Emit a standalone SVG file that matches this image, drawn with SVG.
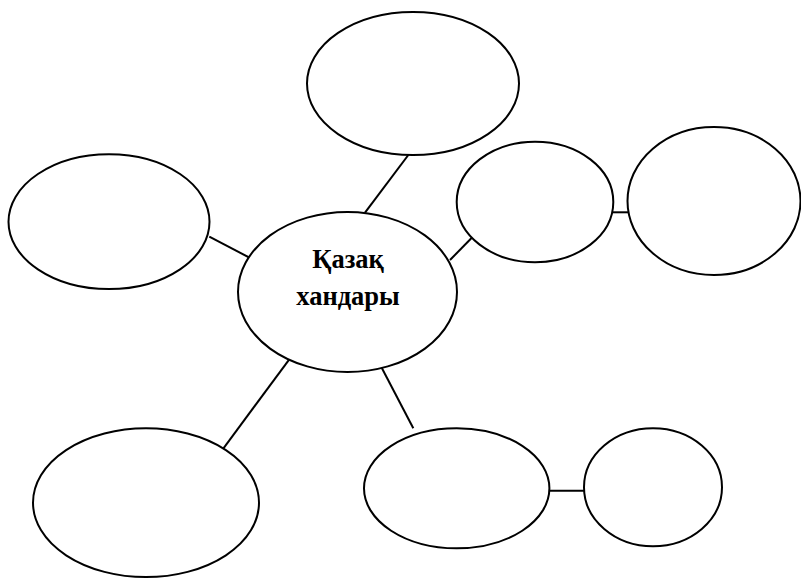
<svg xmlns="http://www.w3.org/2000/svg" width="801" height="581" viewBox="0 0 801 581">
<style>
.n{fill:#fff;stroke:#000;stroke-width:2}
.c line{stroke:#000;stroke-width:2}
.t{font-family:"Liberation Serif","Times New Roman",serif;font-weight:bold;font-size:26.5px;fill:#000;text-anchor:middle}
</style>
<rect width="801" height="581" fill="#fff"/>
<g class="c" id="connectors">
<line x1="408.3" y1="155" x2="365" y2="212.7"/>
<line x1="209.3" y1="236.7" x2="254" y2="260"/>
<line x1="450" y1="260" x2="472.3" y2="237.3"/>
<line x1="613" y1="212.3" x2="628" y2="212.3"/>
<line x1="289.3" y1="359.3" x2="222.7" y2="449.3"/>
<line x1="381.7" y1="367.7" x2="413.3" y2="428.3"/>
<line x1="549" y1="490.7" x2="584" y2="490.7"/>
</g>
<g id="top"><ellipse class="n" cx="413" cy="83.5" rx="106" ry="71.5"/></g>
<g id="left"><ellipse class="n" cx="109" cy="221.7" rx="100.5" ry="67.4"/></g>
<g id="center"><ellipse class="n" cx="347.5" cy="292" rx="109.5" ry="80"/>
<text class="t" x="348" y="268">Қазақ</text>
<text class="t" x="348" y="305">хандары</text></g>
<g id="rightmid"><ellipse class="n" cx="535" cy="202" rx="78.3" ry="60.3"/></g>
<g id="farright"><ellipse class="n" cx="714" cy="201" rx="86.5" ry="74"/></g>
<g id="bottomleft"><ellipse class="n" cx="146" cy="502.7" rx="113" ry="74.4"/></g>
<g id="bottommid"><ellipse class="n" cx="456.7" cy="488.3" rx="92.7" ry="60"/></g>
<g id="bottomright"><ellipse class="n" cx="653" cy="487.2" rx="69" ry="59"/></g>
</svg>
